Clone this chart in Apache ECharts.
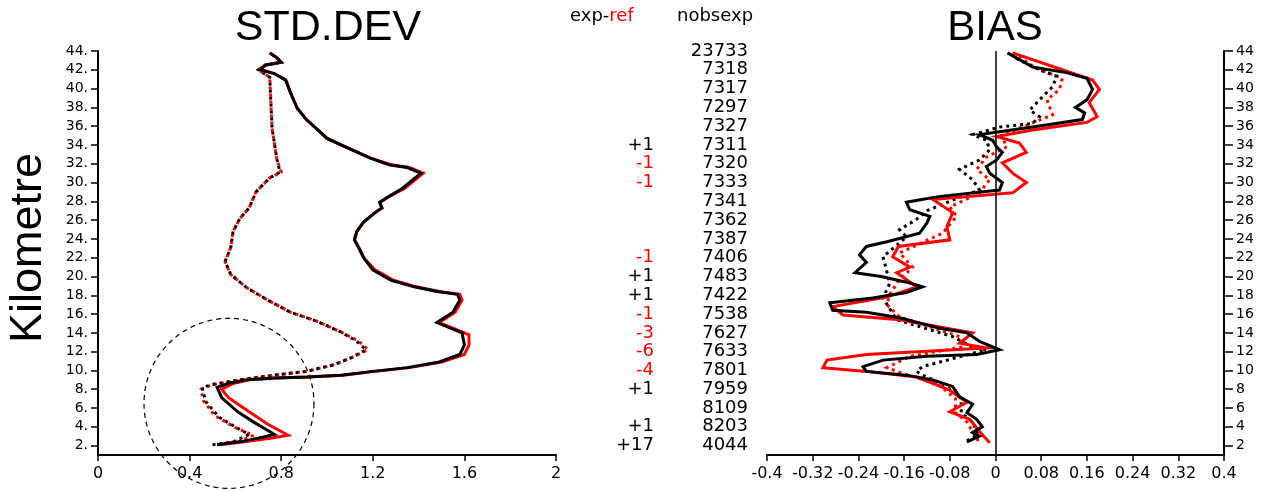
<!DOCTYPE html>
<html>
<head>
<meta charset="utf-8">
<title>STD.DEV / BIAS profiles</title>
<script src="https://cdn.jsdelivr.net/npm/echarts@6/dist/echarts.min.js"></script>
<style>
  html, body { margin: 0; padding: 0; background: #fff; }
  #chart { width: 1261px; height: 491px; }
</style>
</head>
<body>
<div id="chart"></div>
<script>
// Height levels (km) used for ticks and per-level counts
const tickHeights = [2, 4, 6, 8, 10, 12, 14, 16, 18, 20, 22, 24, 26, 28, 30, 32, 34, 36, 38, 40, 42, 44];
const nobsExp = [4044, 8203, 8109, 7959, 7801, 7633, 7627, 7538, 7422, 7483, 7406,
                 7387, 7362, 7341, 7333, 7320, 7311, 7327, 7297, 7317, 7318, 23733];
const nobsDiff = ['+17', '+1', '', '+1', '-4', '-6', '-3', '-1', '+1', '+1', '-1',
                  '', '', '', '-1', '-1', '+1', '', '', '', '', ''];

// Profiles as [value, height km]
const stdExp = [[0.52,2.1],[0.62,2.4],[0.72,2.9],[0.77,3.2],[0.68,4.5],[0.61,5.6],[0.54,7.1],[0.52,8.2],
  [0.58,8.7],[0.65,9.0],[0.77,9.2],[0.91,9.3],[1.06,9.5],[1.20,9.9],[1.35,10.3],[1.49,10.9],[1.58,11.7],
  [1.60,12.7],[1.59,14.0],[1.54,14.5],[1.48,15.1],[1.55,16.2],[1.58,17.5],[1.57,18.1],[1.48,18.4],
  [1.38,18.9],[1.28,19.6],[1.20,20.7],[1.16,22.0],[1.14,23.0],[1.12,23.9],[1.13,24.8],[1.16,25.8],
  [1.21,26.8],[1.24,27.3],[1.23,27.9],[1.27,28.5],[1.33,29.4],[1.41,31.0],[1.35,31.6],[1.27,31.9],
  [1.19,32.6],[1.09,33.7],[1.00,34.7],[0.96,35.6],[0.91,36.7],[0.87,37.9],[0.84,39.6],[0.82,40.9],
  [0.77,41.6],[0.71,42.0],[0.73,42.5],[0.80,42.8],[0.78,43.3],[0.75,43.8]];
const stdRef = [[0.53,2.1],[0.64,2.4],[0.76,2.8],[0.83,3.1],[0.74,4.3],[0.66,5.6],[0.57,7.1],[0.54,8.0],
  [0.59,8.6],[0.66,9.0],[0.78,9.2],[0.92,9.3],[1.07,9.5],[1.21,9.9],[1.36,10.3],[1.50,10.9],[1.60,11.7],
  [1.62,12.7],[1.62,13.8],[1.55,14.5],[1.49,15.1],[1.56,16.2],[1.59,17.5],[1.58,18.1],[1.49,18.4],
  [1.39,18.9],[1.29,19.6],[1.21,20.7],[1.16,22.0],[1.14,23.0],[1.12,23.9],[1.13,24.8],[1.16,25.8],
  [1.21,26.8],[1.24,27.3],[1.23,27.9],[1.27,28.5],[1.34,29.4],[1.42,31.0],[1.36,31.6],[1.28,31.9],
  [1.19,32.6],[1.09,33.7],[1.00,34.7],[0.96,35.6],[0.91,36.7],[0.87,37.9],[0.84,39.6],[0.82,40.9],
  [0.77,41.6],[0.71,42.0],[0.73,42.5],[0.80,42.8],[0.78,43.3],[0.75,43.8]];
const stdExpFg = [[0.50,2.1],[0.59,2.4],[0.66,3.2],[0.62,3.7],[0.53,5.0],[0.47,6.7],[0.455,8.2],[0.50,8.5],
  [0.62,9.0],[0.77,9.5],[0.91,9.9],[1.03,10.6],[1.11,11.4],[1.17,12.2],[1.13,13.1],[1.06,14.1],[0.96,15.2],
  [0.84,16.2],[0.74,17.5],[0.65,18.8],[0.58,20.2],[0.555,21.6],[0.58,23.1],[0.59,24.8],[0.62,26.2],
  [0.66,27.3],[0.69,29.0],[0.75,30.5],[0.795,31.1],[0.78,32.6],[0.76,35.8],[0.75,41.2],[0.70,42.0],
  [0.73,42.5],[0.80,42.8],[0.78,43.3],[0.75,43.8]];
const stdRefFg = [[0.52,2.1],[0.62,2.5],[0.68,3.1],[0.60,3.9],[0.51,5.2],[0.46,6.8],[0.45,8.0],[0.50,8.5],
  [0.62,9.0],[0.77,9.5],[0.91,9.9],[1.03,10.6],[1.11,11.4],[1.18,12.2],[1.14,13.1],[1.06,14.1],[0.96,15.2],
  [0.84,16.2],[0.74,17.5],[0.65,18.8],[0.58,20.2],[0.555,21.6],[0.58,23.1],[0.59,24.8],[0.62,26.2],
  [0.66,27.3],[0.69,29.0],[0.75,30.5],[0.80,31.1],[0.78,32.6],[0.76,35.8],[0.75,41.2],[0.70,42.0],
  [0.73,42.5],[0.80,42.8],[0.78,43.3],[0.75,43.8]];

const biasExp = [[-0.05,2.4],[-0.028,3.0],[-0.04,3.4],[-0.023,4.0],[-0.033,4.8],[-0.05,5.5],[-0.04,6.4],
  [-0.063,7.2],[-0.075,8.3],[-0.11,9.0],[-0.156,9.5],[-0.226,9.9],[-0.232,10.4],[-0.197,11.1],[-0.12,11.5],
  [-0.033,11.7],[0.007,12.2],[-0.028,13.1],[-0.05,14.0],[-0.098,14.5],[-0.168,15.6],[-0.226,16.2],
  [-0.285,16.4],[-0.29,17.2],[-0.215,17.7],[-0.156,18.3],[-0.128,18.9],[-0.15,19.3],[-0.20,20.0],
  [-0.246,20.4],[-0.226,21.5],[-0.238,22.3],[-0.226,23.2],[-0.19,23.7],[-0.133,24.6],[-0.12,25.7],
  [-0.115,26.4],[-0.15,27.1],[-0.156,27.9],[-0.10,28.5],[-0.04,28.9],[0.007,29.2],[0.012,30.0],
  [-0.01,31.0],[-0.016,31.7],[0.002,32.4],[0.012,33.2],[0.002,33.8],[-0.005,34.5],[-0.028,35.1],
  [0.007,35.4],[0.065,35.9],[0.152,36.7],[0.156,37.4],[0.14,38.0],[0.16,38.8],[0.17,39.9],[0.16,41.1],
  [0.124,41.7],[0.065,42.3],[0.021,43.8]];
const biasRef = [[-0.01,2.3],[-0.028,3.5],[-0.045,4.8],[-0.08,5.6],[-0.05,6.6],[-0.08,7.9],[-0.138,9.3],
  [-0.226,9.9],[-0.302,10.3],[-0.295,11.1],[-0.226,11.7],[-0.016,12.4],[-0.063,12.9],[-0.04,14.0],
  [-0.168,15.4],[-0.267,15.9],[-0.285,16.8],[-0.19,17.8],[-0.138,18.9],[-0.173,20.4],[-0.15,21.0],
  [-0.18,22.1],[-0.17,23.2],[-0.08,23.9],[-0.085,25.3],[-0.075,26.8],[-0.11,28.2],[-0.05,28.5],
  [0.03,28.9],[0.054,30.0],[0.03,31.0],[0.012,32.1],[0.054,33.2],[0.042,34.2],[0.002,34.9],[0.065,35.6],
  [0.16,36.4],[0.178,37.0],[0.164,38.5],[0.182,39.9],[0.17,40.9],[0.117,42.0],[0.03,43.8]];
const biasExpFg = [[-0.05,2.5],[-0.03,3.2],[-0.04,4.5],[-0.06,5.5],[-0.06,7.0],[-0.09,8.5],[-0.128,9.5],
  [-0.138,9.9],[-0.128,10.4],[-0.016,12.2],[-0.04,12.5],[-0.075,13.6],[-0.173,15.4],[-0.197,17.7],
  [-0.185,19.3],[-0.19,20.5],[-0.197,22.1],[-0.156,24.2],[-0.168,25.0],[-0.14,26.0],[-0.12,27.0],
  [-0.06,28.5],[-0.028,29.2],[-0.04,30.3],[-0.063,31.4],[-0.028,32.4],[-0.01,33.5],[-0.016,34.5],
  [-0.04,35.1],[0.007,35.9],[0.065,36.3],[0.077,37.0],[0.06,37.7],[0.077,38.8],[0.10,40.2],[0.107,41.3],
  [0.077,42.0],[0.03,43.4]];
const biasRefFg = [[-0.03,2.5],[-0.04,3.5],[-0.05,4.5],[-0.07,5.5],[-0.07,7.0],[-0.10,8.5],[-0.168,9.8],
  [-0.19,10.3],[-0.15,11.5],[-0.058,12.5],[-0.063,13.6],[-0.168,15.7],[-0.19,17.0],[-0.185,18.1],
  [-0.17,19.5],[-0.145,21.0],[-0.168,22.5],[-0.093,24.6],[-0.068,26.4],[-0.08,27.4],[-0.03,28.8],
  [-0.01,30.3],[-0.033,31.4],[-0.016,32.7],[0.02,33.8],[0.01,35.0],[0.05,36.0],[0.10,37.2],[0.09,38.8],
  [0.112,39.9],[0.117,41.1],[0.07,42.2],[0.035,43.6]];

const BLACK = '#000000';
const RED = '#ff0000';
const SMALL_FONT = 'DejaVu Sans';
const TITLE_FONT = 'Liberation Sans';

const fmt = v => String(parseFloat(v.toFixed(2)));

function profile(name, data, color, dotted, xi) {
  return {
    name, type: 'line', xAxisIndex: xi, yAxisIndex: xi, data,
    showSymbol: false, symbol: 'none', animation: false, silent: true,
    lineStyle: { color, width: 3, type: dotted ? [3, 4] : 'solid', cap: 'butt', join: 'miter' }
  };
}

function xAxisCfg(gridIndex, min, max, interval) {
  return {
    gridIndex, type: 'value', min, max, interval,
    axisLine: { show: true, onZero: false, lineStyle: { color: BLACK, width: 2 } },
    axisTick: { show: true, inside: false, length: 6, lineStyle: { color: BLACK, width: 1.5 } },
    axisLabel: { color: BLACK, fontFamily: SMALL_FONT, fontSize: 16, margin: 11, formatter: fmt, hideOverlap: false },
    splitLine: { show: false }
  };
}

function yAxisCfg(gridIndex, position, margin, tickLen, suffix) {
  return {
    gridIndex, type: 'value', min: 1, max: 44, position,
    axisLine: { show: true, onZero: false, lineStyle: { color: BLACK, width: 2 } },
    axisTick: { show: true, inside: false, length: tickLen, customValues: tickHeights,
                lineStyle: { color: BLACK, width: 1.5 } },
    axisLabel: { color: BLACK, fontFamily: SMALL_FONT, fontSize: 14, margin, customValues: tickHeights,
                 formatter: v => v + suffix },
    splitLine: { show: false }
  };
}

const chart = echarts.init(document.getElementById('chart'), null, { renderer: 'canvas' });

// One column of per-level text, placed on the hidden middle grid
const textRows = (col, texts, colorOf) => ({
  type: 'scatter', xAxisIndex: 2, yAxisIndex: 2, symbolSize: 2, silent: true, animation: false,
  itemStyle: { color: 'rgba(0,0,0,0)', opacity: 1 },
  data: tickHeights
    .map((h, i) => ({ h, t: String(texts[i]) }))
    .filter(d => d.t !== '')
    .map(d => ({
      value: [col, d.h],
      label: { formatter: d.t, color: colorOf(d.t) }
    })),
  label: { show: true, position: 'left', distance: 0, fontFamily: SMALL_FONT, fontSize: 18,
           color: BLACK, opacity: 1 }
});

chart.setOption({
  backgroundColor: '#ffffff',
  animation: false,
  grid: [
    { left: 98, top: 51, width: 458, height: 404, outerBoundsMode: 'none', containLabel: false },
    { left: 767, top: 51, width: 457, height: 404, outerBoundsMode: 'none', containLabel: false },
    { left: 560, top: 51, width: 200, height: 404, outerBoundsMode: 'none', containLabel: false }
  ],
  xAxis: [
    xAxisCfg(0, 0, 2, 0.4),
    xAxisCfg(1, -0.4, 0.4, 0.08),
    { gridIndex: 2, type: 'value', min: 0, max: 1, axisLine: { show: false }, axisTick: { show: false },
      axisLabel: { show: false }, splitLine: { show: false } }
  ],
  yAxis: [
    yAxisCfg(0, 'left', 10, 7, '.'),
    yAxisCfg(1, 'right', 12, 9, ''),
    { gridIndex: 2, type: 'value', min: 1, max: 44, axisLine: { show: false }, axisTick: { show: false },
      axisLabel: { show: false }, splitLine: { show: false } }
  ],
  series: [
    profile('ref fg std', stdRefFg, RED, true, 0),
    profile('exp fg std', stdExpFg, BLACK, true, 0),
    profile('ref std', stdRef, RED, false, 0),
    profile('exp std', stdExp, BLACK, false, 0),
    profile('ref fg bias', biasRefFg, RED, true, 1),
    profile('exp fg bias', biasExpFg, BLACK, true, 1),
    profile('ref bias', biasRef, RED, false, 1),
    Object.assign(profile('exp bias', biasExp, BLACK, false, 1), {
      markLine: {
        silent: true, symbol: 'none', animation: false, label: { show: false },
        lineStyle: { color: BLACK, width: 1.5, type: 'solid' },
        data: [{ xAxis: 0 }]
      }
    }),
    textRows(0.475, nobsDiff, t => (t.charAt(0) === '-' ? RED : BLACK)),
    textRows(0.945, nobsExp, () => BLACK)
  ]
});

// Titles, header labels and the highlight circle around the low levels
const circleCenter = chart.convertToPixel({ gridIndex: 0 }, [0.572, 6.5]);
chart.setOption({
  graphic: [
    { type: 'text', x: 328, y: 28,
      style: { text: 'STD.DEV', fill: BLACK, font: '43px "' + TITLE_FONT + '"', align: 'center', verticalAlign: 'middle' } },
    { type: 'text', x: 995, y: 28,
      style: { text: 'BIAS', fill: BLACK, font: '42px "' + TITLE_FONT + '"', align: 'center', verticalAlign: 'middle' } },
    { type: 'text', x: 29, y: 248, rotation: Math.PI / 2,
      style: { text: 'Kilometre', fill: BLACK, font: '45px "' + TITLE_FONT + '"', align: 'center', verticalAlign: 'middle' } },
    { type: 'text', x: 570, y: 16,
      style: { text: '{a|exp-}{b|ref}', verticalAlign: 'middle', align: 'left',
               rich: { a: { fill: BLACK, fontFamily: SMALL_FONT, fontSize: 18 },
                       b: { fill: RED, fontFamily: SMALL_FONT, fontSize: 18 } } } },
    { type: 'text', x: 677, y: 16,
      style: { text: 'nobsexp', fill: BLACK, font: '18px "' + SMALL_FONT + '"', align: 'left', verticalAlign: 'middle' } },
    { type: 'circle', shape: { cx: circleCenter[0], cy: circleCenter[1], r: 85 }, silent: true,
      style: { fill: null, stroke: BLACK, lineWidth: 1.2, lineDash: [5, 4] } }
  ]
});
</script>
</body>
</html>
